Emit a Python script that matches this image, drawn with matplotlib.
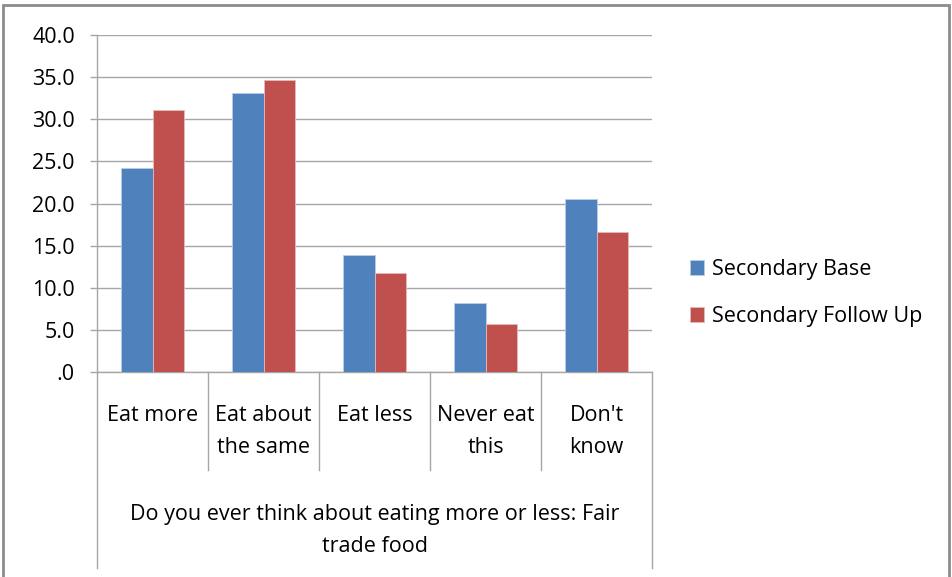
import numpy as np
import matplotlib.pyplot as plt
from matplotlib.patches import Rectangle
from matplotlib.transforms import blended_transform_factory

plt.rcParams['font.family'] = ['Open Sans', 'DejaVu Sans']

categories = ["Eat more", "Eat about\nthe same", "Eat less", "Never eat\nthis", "Don't\nknow"]
base = [24.2, 33.1, 13.9, 8.2, 20.5]
follow_up = [31.1, 34.7, 11.7, 5.7, 16.6]
series_names = ["Secondary Base", "Secondary Follow Up"]
group_label = "Do you ever think about eating more or less: Fair\ntrade food"
yticks = [0, 5, 10, 15, 20, 25, 30, 35, 40]
ytick_labels = [".0", "5.0", "10.0", "15.0", "20.0", "25.0", "30.0", "35.0", "40.0"]

W, H = 952, 577
fs = 15.5
grid_col = "#a6a6a6"

fig = plt.figure(figsize=(W / 100, H / 100), dpi=100)
ax = fig.add_axes([97 / W, 1 - 372 / H, 555 / W, 337 / H])

x = np.arange(len(categories))
bw = 0.285
ax.bar(x - bw / 2, base, bw, color="#4f81bd", edgecolor="#b9cde5", linewidth=0.6, label=series_names[0], zorder=3)
ax.bar(x + bw / 2, follow_up, bw, color="#c0504d", edgecolor="#e6b9b8", linewidth=0.6, label=series_names[1], zorder=3)

ax.set_xlim(-0.5, len(categories) - 0.5)
ax.set_ylim(0, 40)
ax.set_yticks(yticks)
ax.set_yticklabels(ytick_labels, fontsize=fs, color="#000000")
ax.tick_params(axis="y", length=5, width=1, color=grid_col, pad=11)
ax.set_xticks([])
ax.grid(axis="y", color=grid_col, linewidth=1, zorder=0)

for s in ["top", "right"]:
    ax.spines[s].set_visible(False)
ax.spines["left"].set_color(grid_col)
ax.spines["bottom"].set_color(grid_col)
ax.spines["left"].set_linewidth(1)
ax.spines["bottom"].set_linewidth(1)

# category dividers and outer box below the axis
tr = blended_transform_factory(ax.transData, ax.transAxes)
low1 = -(470 - 372) / 337
low2 = -(568 - 372) / 337
for b in np.arange(0.5, len(categories) - 1, 1.0):
    ax.plot([b, b], [0, low1], color=grid_col, lw=1, transform=tr, clip_on=False)
for b in [-0.5, len(categories) - 0.5]:
    ax.plot([b, b], [0, low2], color=grid_col, lw=1, transform=tr, clip_on=False)

for i, c in enumerate(categories):
    ax.text(i, -(405 - 372) / 337, c, transform=tr, ha="center", va="top",
            fontsize=fs, linespacing=1.7)
ax.text((len(categories) - 1) / 2, -(504 - 372) / 337, group_label, transform=tr,
        ha="center", va="top", fontsize=fs, linespacing=1.7)

ax.legend(loc="center left", bbox_to_anchor=(671 / W, 1 - 293 / H), bbox_transform=fig.transFigure,
          frameon=False, fontsize=fs, handlelength=0.65, handleheight=0.65, handletextpad=0.35,
          labelspacing=1.2)

# outer chart border
fig.patches.append(Rectangle((3 / W, -0.05), 946 / W, 1.05 - 5 / H, transform=fig.transFigure,
                             fill=False, edgecolor="#8c8c8c", linewidth=2))

fig.savefig("out.png", dpi=100)
